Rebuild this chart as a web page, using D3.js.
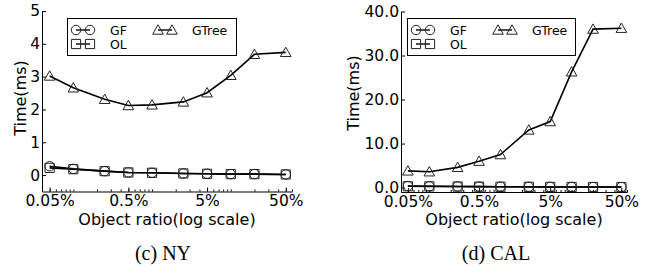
<!DOCTYPE html>
<html><head><meta charset="utf-8">
<script src="https://cdn.jsdelivr.net/npm/d3@7"></script>
<style>body{margin:0;background:#fff}svg{display:block}</style>
</head><body>
<svg id="c" width="650" height="274"></svg>
<script>
// ---- data ----
const xValues = [0.05, 0.1, 0.25, 0.5, 1, 2.5, 5, 10, 20, 50];
const nyGF    = [0.27, 0.19, 0.12, 0.08, 0.07, 0.05, 0.04, 0.03, 0.03, 0.02];
const nyOL    = [0.22, 0.18, 0.12, 0.08, 0.07, 0.05, 0.04, 0.03, 0.03, 0.02];
const nyGTree = [3.02, 2.66, 2.31, 2.12, 2.14, 2.23, 2.51, 3.04, 3.68, 3.74];
const calGF    = [0.35, 0.3, 0.25, 0.22, 0.2, 0.18, 0.15, 0.14, 0.13, 0.12];
const calOL    = [0.3, 0.28, 0.24, 0.21, 0.19, 0.17, 0.15, 0.14, 0.13, 0.12];
const calGTree = [3.8, 3.6, 4.6, 6.0, 7.5, 13.1, 15.0, 26.3, 36.0, 36.2];
const xTickValues = [0.05, 0.5, 5, 50];
const xTickLabels = ["0.05%", "0.5%", "5%", "50%"];
const nyYTicks = [0, 1, 2, 3, 4, 5];
const calYTicks = [0, 10, 20, 30, 40];
const seriesNames = ["GF", "OL", "GTree"];
const markerTypes = ["circle", "square", "triangle"];
const xLabel = "Object ratio(log scale)";
const yLabel = "Time(ms)";
const captions = ["(c) NY", "(d) CAL"];

const svg = d3.select("#c");
const FONT = "DejaVu Sans";

const panels = [
  {series:[nyGF, nyOL, nyGTree], yTicks:nyYTicks, yDomain:[-0.5,5], yFmt:d3.format("d"),
   x0:42, x1:292, yTop:11, yBot:191.5, legend:{x:67, y:18, w:169, h:37}, ylabX:20, ylabY:98, caption:captions[0], capX:163},
  {series:[calGF, calOL, calGTree], yTicks:calYTicks, yDomain:[-1,40], yFmt:d3.format(".1f"),
   x0:401, x1:627, yTop:11.5, yBot:192, legend:{x:407, y:18, w:168, h:37}, ylabX:353, ylabY:93, caption:captions[1], capX:496}
];

function drawMarker(g, type, cx, cy) {
  const s = g.append("path")
    .attr("fill", "none").attr("stroke", "#222").attr("stroke-width", 1);
  if (type === "circle") s.attr("d", d3.symbol(d3.symbolCircle, 70)());
  else if (type === "square") s.attr("d", `M-4.6,-4.6H4.6V4.6H-4.6Z`);
  else s.attr("d", `M0,-5.2L5.3,4.2L-5.3,4.2Z`);
  s.attr("transform", `translate(${cx},${cy})`);
}

panels.forEach(p => {
  const x = d3.scaleLog().domain([0.04, 60]).range([p.x0, p.x1]);
  const y = d3.scaleLinear().domain(p.yDomain).range([p.yBot, p.yTop]);
  const g = svg.append("g");

  // minor x ticks
  const minor = [];
  for (let e = -2; e <= 1; e++) for (let m = 1; m <= 9; m++) {
    const v = m * Math.pow(10, e);
    if (v >= 0.04 && v <= 60) minor.push(v);
  }
  g.append("g").attr("transform", `translate(0,${p.yBot})`)
    .call(d3.axisBottom(x).tickValues(minor).tickSize(-2).tickFormat(""))
    .call(a => a.select(".domain").remove())
    .call(a => a.selectAll("line").attr("stroke", "#000"));

  const xa = g.append("g").attr("transform", `translate(0,${p.yBot})`)
    .call(d3.axisBottom(x).tickValues(xTickValues).tickFormat((d, i) => xTickLabels[i])
      .tickSizeInner(-4).tickSizeOuter(0).tickPadding(3.5));
  xa.selectAll("text").attr("font-family", FONT).attr("font-size", 15.5).attr("fill", "#000");

  const ya = g.append("g").attr("transform", `translate(${p.x0},0)`)
    .call(d3.axisLeft(y).tickValues(p.yTicks).tickFormat(p.yFmt)
      .tickSizeInner(-4).tickSizeOuter(0).tickPadding(2));
  ya.selectAll("text").attr("font-family", FONT).attr("font-size", 15.5).attr("fill", "#000");
  [xa, ya].forEach(a => a.select(".domain").attr("stroke", "#000").attr("stroke-width", 1));

  // axis labels
  g.append("text").attr("x", (p.x0 + p.x1) / 2).attr("y", 224.5)
    .attr("text-anchor", "middle").attr("font-family", FONT).attr("font-size", 16)
    .text(xLabel);
  g.append("text").attr("transform", `translate(${p.ylabX},${p.ylabY}) rotate(-90)`)
    .attr("text-anchor", "middle").attr("dy", "0.35em").attr("font-family", FONT).attr("font-size", 16)
    .text(yLabel);

  // series
  const line = d3.line().x((d, i) => x(xValues[i])).y(d => y(d));
  p.series.forEach((vals, si) => {
    g.append("path").datum(vals).attr("d", line)
      .attr("fill", "none").attr("stroke", "#000").attr("stroke-width", 1.6);
    vals.forEach((v, i) => drawMarker(g, markerTypes[si], x(xValues[i]), y(v)));
  });

  // legend
  const L = p.legend;
  const lg = g.append("g");
  lg.append("rect").attr("x", L.x + 0.5).attr("y", L.y + 0.5).attr("width", L.w).attr("height", L.h)
    .attr("fill", "#fff").attr("stroke", "#000").attr("stroke-width", 1);
  const entries = [
    {dx: 9, dy: 12}, {dx: 9, dy: 26}, {dx: 91, dy: 12}
  ];
  seriesNames.forEach((name, si) => {
    const ex = L.x + entries[si].dx, ey = L.y + entries[si].dy;
    lg.append("line").attr("x1", ex).attr("x2", ex + 14).attr("y1", ey).attr("y2", ey)
      .attr("stroke", "#000").attr("stroke-width", 1.4);
    drawMarker(lg, markerTypes[si], ex, ey);
    drawMarker(lg, markerTypes[si], ex + 14, ey);
    lg.append("text").attr("x", ex + 34).attr("y", ey).attr("dy", "0.36em")
      .attr("font-family", FONT).attr("font-size", 12.5).text(name);
  });

  // caption
  svg.append("text").attr("x", p.capX).attr("y", 260).attr("text-anchor", "middle")
    .attr("font-family", "Liberation Serif").attr("font-size", 20).text(p.caption);
});
</script>
</body></html>
